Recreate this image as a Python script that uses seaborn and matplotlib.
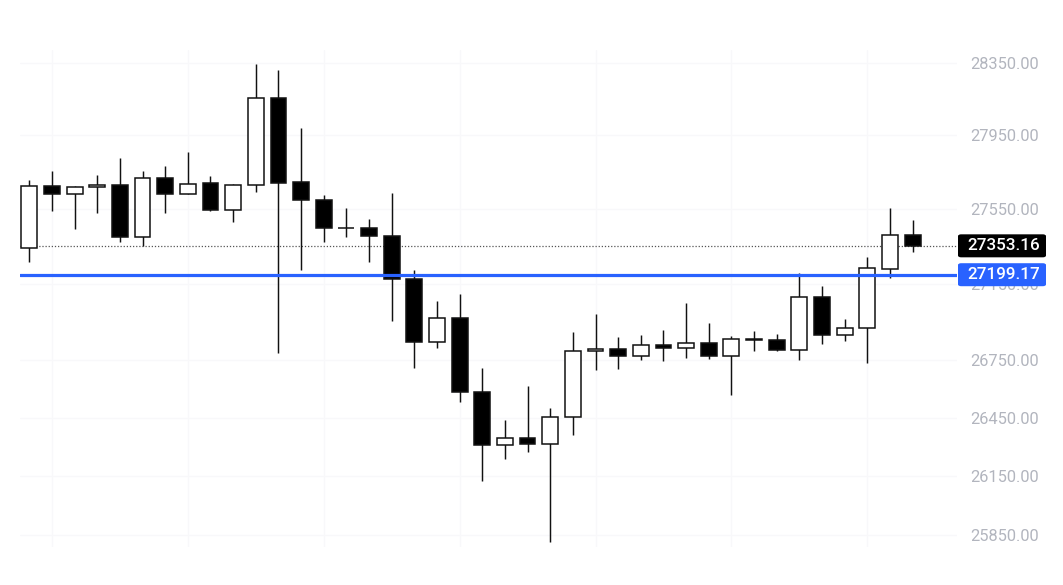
import numpy as np
import seaborn as sns
import matplotlib
matplotlib.use('Agg')
import matplotlib.pyplot as plt
from matplotlib.patches import FancyBboxPatch
from matplotlib.ticker import FixedLocator, FixedFormatter, NullLocator

# candle data
opens = [27342, 27677, 27632, 27670, 27682, 27400, 27720, 27632, 27690, 27545,
         27682, 28157, 27695, 27601, 27451, 27450, 27407, 27178, 26842, 26970,
         26584, 26309, 26346, 26315, 26455, 26795, 26809, 26770, 26828, 26814,
         26840, 26772, 26861, 26856, 26802, 27083, 26879, 26916, 27231, 27410]
highs = [27707, 27758, 27677, 27733, 27825, 27758, 27782, 27858, 27728, 27684,
         28341, 28310, 27992, 27628, 27555, 27495, 27636, 27223, 27061, 27097,
         26709, 26438, 26616, 26498, 26898, 26990, 26868, 26882, 26905, 27048,
         26942, 26875, 26900, 26886, 27207, 27138, 26966, 27295, 27556, 27490]
lows = [27267, 27538, 27442, 27528, 27375, 27352, 27528, 27630, 27538, 27483,
        27643, 26785, 27224, 27375, 27400, 27268, 26956, 26706, 26814, 26531,
        26124, 26238, 26273, 25813, 26360, 26696, 26701, 26750, 26744, 26760,
        26753, 26566, 26797, 26795, 26748, 26832, 26849, 26732, 27183, 27322]
closes = [27677, 27632, 27671, 27682, 27400, 27720, 27632, 27687, 27545, 27682,
          28157, 27693, 27601, 27449, 27449, 27407, 27178, 26842, 26970, 26583,
          26309, 26346, 26315, 26455, 26798, 26809, 26770, 26828, 26814, 26840,
          26772, 26861, 26854, 26802, 27083, 26879, 26916, 27233, 27410, 27353.16]

last_price = 27353.16
level_price = 27199.17
tick_values = [25850, 26150, 26450, 26750, 27150, 27550, 27950, 28350]
tick_labels = ['25850.00', '26150.00', '26450.00', '26750.00', '27150.00',
               '27550.00', '27950.00', '28350.00']

sns.set_theme(style='white')
plt.rcParams['font.family'] = ['Roboto', 'DejaVu Sans']

W, H = 1063, 585
fig = plt.figure(figsize=(W / 100, H / 100), dpi=100)
ax = fig.add_axes([20 / W, 38 / H, 937 / W, 497 / H])

idx = np.arange(len(opens))
o = np.array(opens)
c = np.array(closes)
up = c >= o
bottom = np.minimum(o, c)
height = np.maximum(np.abs(c - o), 0.5)

# very faint grid
for gx in range(1, len(opens), 6):
    ax.axvline(gx, color='#f8f8fa', lw=1, zorder=0)
for tv in tick_values:
    ax.axhline(tv, color='#f8f8fa', lw=1, zorder=0)

ax.vlines(idx, lows, highs, color='#111111', lw=1.05, zorder=2)
ax.bar(idx[up], height[up], bottom=bottom[up], width=0.7, color='white',
       edgecolor='#111111', linewidth=1.1, zorder=3)
ax.bar(idx[~up], height[~up], bottom=bottom[~up], width=0.7, color='black',
       edgecolor='#111111', linewidth=1.1, zorder=3)

ax.axhline(last_price, color='#555555', lw=0.9, ls=(0, (1, 1.5)), zorder=1)
ax.axhline(level_price, color='#2962ff', lw=2.3, zorder=4)

ax.set_yscale('log')
ax.set_ylim(25789.3, 28420.5)
ax.set_xlim(-0.41, 40.96)
ax.yaxis.set_major_locator(FixedLocator(tick_values))
ax.yaxis.set_major_formatter(FixedFormatter(tick_labels))
ax.yaxis.set_minor_locator(NullLocator())
ax.yaxis.tick_right()
ax.tick_params(axis='y', length=0, pad=9.5, labelsize=11.8, labelcolor='#b2b5be')
ax.set_xticks([])
sns.despine(ax=ax, left=True, bottom=True, right=True, top=True)

# price tags on the right scale
def tag(price, face):
    y = ax.transData.transform((0, price))[1] / fig.bbox.height
    bw, bh = 88 / W, 23 / H
    box = FancyBboxPatch((958 / W, y - bh / 2), bw, bh,
                         boxstyle='round,pad=0,rounding_size=0.003',
                         transform=fig.transFigure, fc=face, ec='none',
                         zorder=5)
    fig.patches.append(box)
    fig.text(1004 / W, y, f'{price:.2f}', ha='center', va='center',
             color='white', fontsize=12.3, fontweight='medium', zorder=6)

tag(last_price, 'black')
tag(level_price, '#2962ff')

fig.savefig('out.png', dpi=100, facecolor='white')
